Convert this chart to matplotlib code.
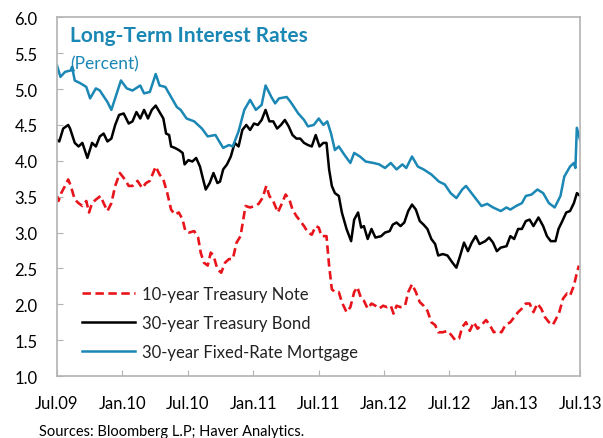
import matplotlib
matplotlib.use("Agg")
import matplotlib.pyplot as plt

plt.rcParams['font.family'] = ['Lato', 'DejaVu Sans']

# time in months since Jul 2009
tick_months = [0, 6, 12, 18, 24, 30, 36, 42, 48]
tick_labels = ['Jul.09', 'Jan.10', 'Jul.10', 'Jan.11', 'Jul.11', 'Jan.12', 'Jul.12', 'Jan.13', 'Jul.13']
y_ticks = [1.0, 1.5, 2.0, 2.5, 3.0, 3.5, 4.0, 4.5, 5.0, 5.5, 6.0]

note_t = [0, 0.14, 0.39, 0.74, 1.03, 1.27, 1.63, 1.98, 2.33, 2.69, 2.94, 3.22, 3.57, 4.00, 4.28, 4.63, 4.99,
          5.34, 5.77, 6.23, 6.58, 6.93, 7.39, 7.82, 8.17, 8.52, 9.06, 9.41, 9.76, 10.12, 10.47, 10.82, 11.18,
          11.53, 11.78, 12.13, 12.59, 12.95, 13.19, 13.48, 13.83, 14.11, 14.36, 14.72, 15.07, 15.42, 15.78,
          16.13, 16.48, 16.84, 17.30, 17.72, 18.15, 18.50, 18.85, 19.21, 19.49, 19.84, 20.27, 20.62, 20.98,
          21.33, 21.61, 21.97, 22.32, 22.67, 23.03, 23.38, 23.74, 24.02, 24.27, 24.73, 24.97, 25.22, 25.50,
          25.86, 26.14, 26.57, 26.92, 27.27, 27.56, 27.91, 28.16, 28.51, 28.86, 29.22, 29.57, 29.93, 30.28,
          30.63, 30.88, 31.16, 31.52, 31.94, 32.23, 32.58, 32.93, 33.29, 33.64, 33.99, 34.35, 34.70, 34.98,
          35.41, 35.83, 36.19, 36.54, 36.89, 37.18, 37.53, 37.88, 38.24, 38.59, 38.95, 39.37, 39.72, 40.08,
          40.43, 40.79, 41.14, 41.60, 41.95, 42.31, 42.66, 43.02, 43.37, 43.72, 44.08, 44.43, 44.78, 45.14,
          45.49, 45.74, 46.09, 46.44, 46.80, 47.08, 47.43, 47.71, 47.89]
note_v = [3.51, 3.44, 3.55, 3.65, 3.74, 3.65, 3.46, 3.41, 3.37, 3.44, 3.28, 3.41, 3.46, 3.51, 3.41, 3.30, 3.41,
          3.65, 3.83, 3.74, 3.65, 3.65, 3.72, 3.62, 3.69, 3.72, 3.92, 3.81, 3.74, 3.55, 3.32, 3.25, 3.28,
          3.18, 3.02, 3.00, 3.02, 2.93, 2.72, 2.58, 2.54, 2.72, 2.68, 2.49, 2.44, 2.58, 2.63,
          2.63, 2.86, 2.95, 3.37, 3.35, 3.37, 3.40, 3.48, 3.65, 3.51, 3.44, 3.28, 3.40, 3.53,
          3.46, 3.32, 3.23, 3.16, 3.09, 3.00, 2.97, 3.09, 3.07, 2.95, 2.95, 2.54, 2.21, 2.17,
          2.17, 2.03, 1.89, 1.96, 2.17, 2.24, 2.08, 2.05, 1.94, 2.01, 1.98, 1.94, 1.98, 1.96,
          1.98, 1.87, 1.98, 1.96, 1.98, 2.17, 2.28, 2.17, 2.03, 1.98, 1.91, 1.75, 1.71, 1.61,
          1.61, 1.63, 1.57, 1.50, 1.52, 1.68, 1.75, 1.63, 1.75, 1.66, 1.71, 1.78, 1.71, 1.61,
          1.63, 1.61, 1.71, 1.75, 1.82, 1.89, 1.94, 2.01, 2.01, 1.89, 2.01, 1.94, 1.82, 1.75,
          1.71, 1.78, 1.89, 2.08, 2.15, 2.12, 2.26, 2.44, 2.54]

bond_t = [0, 0.21, 0.57, 1.03, 1.20, 1.63, 1.98, 2.33, 2.79, 3.22, 3.57, 3.93, 4.28, 4.63, 4.99, 5.34, 5.70,
          6.12, 6.58, 6.93, 7.29, 7.64, 7.99, 8.35, 8.70, 9.06, 9.41, 9.76, 10.01, 10.29, 10.47, 10.82, 11.18,
          11.53, 11.71, 12.06, 12.42, 12.77, 13.12, 13.41, 13.65, 14.01, 14.36, 14.72, 14.96, 15.25, 15.60,
          15.95, 16.31, 16.66, 17.01, 17.37, 17.72, 18.08, 18.43, 18.78, 19.14, 19.49, 19.84, 20.20, 20.55,
          20.91, 21.26, 21.61, 21.97, 22.32, 22.67, 23.03, 23.38, 23.74, 24.09, 24.44, 24.73, 24.97, 25.22,
          25.50, 25.86, 26.14, 26.57, 26.99, 27.27, 27.63, 27.91, 28.16, 28.51, 28.86, 29.22, 29.75, 30.10,
          30.53, 30.81, 31.16, 31.52, 31.87, 32.23, 32.58, 32.93, 33.29, 33.64, 33.99, 34.35, 34.70, 34.98,
          35.41, 35.83, 36.29, 36.65, 37.00, 37.35, 37.71, 38.06, 38.42, 38.77, 39.30, 39.65, 40.01, 40.36,
          40.72, 41.25, 41.60, 41.95, 42.31, 42.66, 43.02, 43.37, 43.72, 44.18, 44.61, 44.96, 45.31, 45.74,
          46.02, 46.37, 46.73, 47.08, 47.43, 47.71, 48.00]
bond_v = [4.29, 4.27, 4.45, 4.50, 4.45, 4.25, 4.20, 4.25, 4.04, 4.25, 4.20, 4.34, 4.38, 4.27, 4.31, 4.50, 4.64,
          4.66, 4.52, 4.55, 4.68, 4.59, 4.71, 4.59, 4.71, 4.77, 4.68, 4.59, 4.38, 4.36, 4.20, 4.18, 4.15,
          4.11, 3.95, 4.01, 3.99, 4.04, 3.92, 3.74, 3.60, 3.69, 3.83, 3.69, 3.71, 3.88, 3.95,
          4.06, 4.25, 4.20, 4.43, 4.50, 4.43, 4.52, 4.50, 4.57, 4.71, 4.55, 4.55, 4.45, 4.50,
          4.57, 4.48, 4.36, 4.31, 4.31, 4.25, 4.22, 4.20, 4.36, 4.20, 4.25, 4.25, 3.88, 3.65,
          3.55, 3.51, 3.28, 3.05, 2.88, 3.18, 3.28, 3.07, 3.09, 2.91, 3.05, 2.93, 2.95, 3.00,
          3.02, 3.11, 3.14, 3.09, 3.14, 3.30, 3.39, 3.32, 3.16, 3.11, 3.05, 2.91, 2.84, 2.68,
          2.70, 2.68, 2.58, 2.51, 2.68, 2.86, 2.74, 2.86, 2.95, 2.84, 2.88, 2.93, 2.86, 2.74,
          2.79, 2.81, 2.95, 2.91, 3.05, 3.05, 3.16, 3.18, 3.09, 3.21, 3.09, 2.95, 2.88, 2.88,
          3.05, 3.16, 3.28, 3.30, 3.41, 3.55, 3.51]

mort_t = [0, 0.32, 0.74, 1.27, 1.38, 1.63, 2.16, 2.69, 3.04, 3.57, 3.93, 4.63, 4.99, 5.87, 6.40, 6.93, 7.64,
          7.99, 8.52, 9.06, 9.41, 9.94, 10.47, 11.00, 11.35, 11.89, 12.59, 13.30, 13.83, 14.54, 14.89, 15.25,
          15.78, 16.13, 16.66, 17.19, 17.72, 18.25, 18.78, 19.14, 19.67, 20.02, 20.37, 21.08, 21.44, 22.14,
          22.67, 23.03, 23.56, 24.02, 24.44, 24.80, 25.15, 25.50, 25.86, 26.39, 26.92, 27.27, 27.80, 28.33,
          29.04, 29.57, 30.10, 30.63, 31.16, 31.69, 32.05, 32.58, 33.11, 33.64, 34.35, 35.05, 35.59, 36.12,
          36.65, 37.18, 37.53, 38.24, 38.95, 39.48, 40.01, 40.72, 41.25, 41.60, 42.13, 42.66, 43.02, 43.55,
          44.08, 44.61, 45.14, 45.67, 46.20, 46.55, 47.08, 47.43, 47.57, 47.70, 48.00]
mort_v = [5.33, 5.17, 5.24, 5.26, 5.31, 5.12, 5.08, 5.03, 4.87, 5.01, 4.98, 4.82, 4.71, 5.12, 5.01, 4.98, 5.05,
          4.94, 4.96, 5.21, 5.05, 5.03, 4.89, 4.75, 4.71, 4.59, 4.55, 4.45, 4.34, 4.36, 4.27, 4.18,
          4.22, 4.20, 4.41, 4.71, 4.85, 4.71, 4.78, 5.05, 4.89, 4.80, 4.87, 4.89, 4.82, 4.66,
          4.57, 4.48, 4.50, 4.59, 4.50, 4.55, 4.38, 4.15, 4.20, 4.08, 3.97, 4.11, 4.06, 3.99,
          3.97, 3.95, 3.90, 3.97, 3.88, 3.95, 3.90, 4.06, 3.92, 3.88, 3.81, 3.71, 3.67, 3.55,
          3.48, 3.60, 3.65, 3.51, 3.37, 3.40, 3.35, 3.30, 3.35, 3.32, 3.37, 3.41, 3.51, 3.53,
          3.60, 3.55, 3.41, 3.35, 3.51, 3.78, 3.92, 3.97, 3.90, 4.46, 4.29]

series_names = ['10-year Treasury Note', '30-year Treasury Bond', '30-year Fixed-Rate Mortgage']

RED = '#e8141b'
BLUE = '#1a87b4'

fig = plt.figure(figsize=(6.03, 4.39), dpi=100)
ax = fig.add_axes([0.0945, 0.1412, 0.8675, 0.817])

ax.plot(note_t, note_v, color=RED, lw=1.9, linestyle=(0, (3.2, 1.7)), label=series_names[0])
ax.plot(bond_t, bond_v, color='black', lw=1.8, label=series_names[1])
ax.plot(mort_t, mort_v, color=BLUE, lw=1.8, label=series_names[2])

ax.set_xlim(0, 48)
ax.set_ylim(1.0, 6.0)
ax.set_xticks(tick_months)
ax.set_xticklabels(tick_labels)
ax.set_yticks(y_ticks)
ax.set_yticklabels([f'{v:.1f}' for v in y_ticks])

for s in ax.spines.values():
    s.set_color('#b3b3b3')
    s.set_linewidth(1.2)

ax.tick_params(axis='x', direction='in', length=4, color='#b3b3b3', labelsize=12, pad=14)
ax.tick_params(axis='y', direction='in', length=4, color='#b3b3b3', labelsize=12, pad=14)

ax.text(0.025, 0.95, 'Long-Term Interest Rates', transform=ax.transAxes, color=BLUE,
        fontsize=15, fontweight='bold', va='center', ha='left')
ax.text(0.025, 0.872, '(Percent)', transform=ax.transAxes, color=BLUE,
        fontsize=12.5, va='center', ha='left')

leg = ax.legend(loc='lower left', bbox_to_anchor=(0.048, 0.045), frameon=False, fontsize=12,
                handlelength=3.2, handletextpad=0.4, labelspacing=0.78, borderpad=0, borderaxespad=0)
for t in leg.get_texts():
    t.set_color('#222222')

fig.text(0.065, 0.016, 'Sources: Bloomberg L.P; Haver Analytics.', fontsize=10.5, va='center', ha='left')

fig.savefig('out.png', dpi=100)
